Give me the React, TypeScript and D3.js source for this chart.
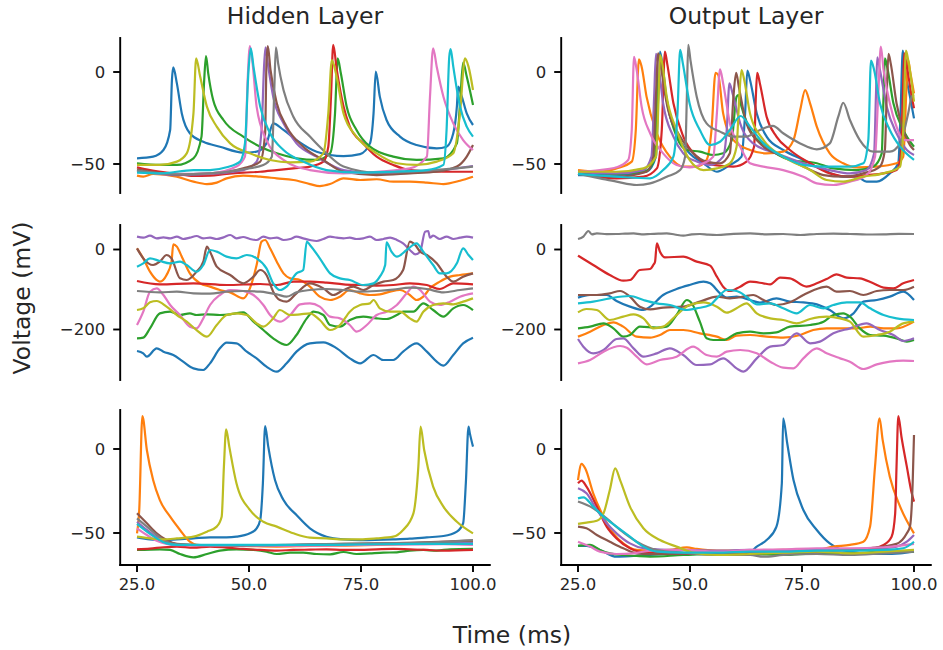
import React from 'react';
import * as d3 from 'd3';

type Pt = [number, number];

// Membrane potential traces (time in ms, voltage in mV), ten neurons per panel,
// listed in colour-cycle order: blue, orange, green, red, purple, brown, pink, gray, olive, cyan.

const hiddenSpiking: Pt[][] = [
  [[25,-46.9],[28.6,-46.0],[30.9,-42.4],[32.4,-31.5],[32.8,-4.3],[33.1,2.5],[33.9,-6.2],[35.0,-22.5],[36.8,-33.3],[39.8,-37.9],[43.5,-40.6],[48.7,-43.8],[51.7,-43.3],[53.9,-38.8],[55.4,-27.9],[57.7,-31.5],[60.6,-37.0],[65.1,-43.3],[71.1,-45.7],[74.8,-44.6],[77.0,-38.8],[77.8,-22.5],[78.3,0.2],[79.2,-13.4],[80.7,-26.1],[83.7,-35.1],[87.4,-39.7],[91.9,-41.5],[94.1,-40.6],[95.6,-33.3],[96.4,-18.8],[96.7,-8.0],[97.5,-13.4],[98.6,-22.5],[100,-28.8]],
  [[25,-56.3],[26.4,-56.9],[28.6,-55.4],[33.9,-56.9],[37.6,-59.6],[40.6,-60.9],[42.8,-60.1],[45.0,-57.8],[48.7,-56.3],[52.5,-56.9],[56.2,-57.8],[59.9,-58.7],[63.6,-60.9],[65.8,-62.0],[68.1,-60.9],[71.1,-57.8],[74.8,-58.7],[78.5,-58.3],[82.2,-59.6],[85.9,-59.6],[89.7,-60.1],[93.4,-60.9],[97.1,-59.1],[100,-56.9]],
  [[25,-49.6],[30.1,-50.5],[33.9,-50.5],[37.6,-46.9],[39.4,-35.1],[40.0,-4.3],[40.4,8.7],[40.9,-0.7],[42.0,-15.2],[44.3,-26.1],[48.7,-35.1],[52.5,-40.6],[56.2,-44.2],[60.6,-46.9],[65.1,-47.8],[68.1,-44.2],[69.2,-22.5],[69.8,7.4],[70.5,-0.7],[71.8,-18.8],[74.0,-31.5],[77.0,-40.6],[82.2,-46.0],[87.4,-47.8],[93.4,-46.9],[96.4,-38.8],[97.2,-13.4],[97.8,5.1],[98.6,-2.5],[100,-17.9]],
  [[25,-51.8],[27.9,-53.3],[33.9,-55.4],[37.6,-56.5],[41.3,-56.3],[45.0,-55.4],[48.7,-54.7],[52.5,-54.2],[56.2,-53.3],[59.9,-52.4],[63.6,-51.4],[66.6,-48.7],[67.7,-40.6],[68.3,-13.4],[68.8,14.7],[69.6,1.1],[71.1,-18.8],[72.5,-29.7],[75.5,-38.8],[78.5,-46.0],[82.2,-50.5],[85.9,-53.3],[93.4,-54.2],[100,-54.2]],
  [[25,-53.3],[33.9,-56.0],[41.3,-55.4],[48.7,-53.3],[51.7,-48.7],[52.8,-31.5],[53.4,4.7],[53.7,13.4],[54.3,2.9],[55.4,-13.4],[57.7,-27.9],[60.6,-38.8],[65.1,-46.0],[71.1,-53.3],[78.5,-55.1],[85.9,-54.7],[93.4,-53.3],[100,-51.1]],
  [[25,-52.9],[33.9,-55.6],[41.3,-55.1],[48.7,-52.4],[52.5,-48.7],[53.6,-33.3],[53.9,4.7],[54.2,14.1],[54.8,1.1],[56.2,-17.0],[58.4,-29.7],[62.1,-40.6],[66.6,-47.8],[71.1,-54.2],[78.5,-56.0],[85.9,-55.1],[91.9,-54.2],[96.4,-51.4],[98.6,-46.0],[100,-39.7]],
  [[25,-54.2],[33.9,-55.4],[41.3,-55.1],[47.2,-51.4],[49.1,-46.0],[49.7,-4.3],[50.2,14.1],[50.8,4.7],[51.7,-18.8],[53.9,-37.0],[57.7,-47.8],[63.6,-53.3],[71.1,-55.1],[78.5,-54.2],[85.9,-52.4],[89.7,-46.0],[90.4,-13.4],[91.1,12.9],[91.9,2.9],[93.4,-13.4],[95.6,-27.9],[97.8,-37.0],[100,-42.4]],
  [[25,-53.6],[33.9,-55.6],[41.3,-55.1],[48.7,-52.9],[53.2,-50.5],[55.1,-46.0],[55.6,-13.4],[56.0,13.4],[56.5,4.7],[57.7,-9.8],[59.9,-24.3],[63.6,-35.1],[67.3,-44.2],[71.1,-51.4],[78.5,-54.7],[85.9,-54.2],[93.4,-52.9],[100,-51.4]],
  [[25,-50.5],[30.1,-50.5],[33.9,-48.7],[36.1,-44.2],[37.6,-22.5],[38.2,7.4],[39.1,-2.5],[40.6,-18.8],[42.8,-29.7],[45.8,-38.8],[50.2,-44.2],[54.7,-47.8],[59.2,-49.1],[63.6,-48.7],[66.6,-44.2],[67.7,-22.5],[68.5,6.5],[69.4,-0.7],[71.1,-22.5],[74.0,-35.1],[78.5,-44.2],[83.0,-49.6],[87.4,-50.5],[91.9,-48.7],[95.6,-44.2],[97.1,-22.5],[98.2,7.4],[99.0,2.9],[100,-9.8]],
  [[25,-54.7],[30.1,-55.1],[37.6,-53.3],[41.3,-53.3],[45.0,-51.8],[48.0,-48.7],[49.1,-38.8],[49.9,1.1],[50.4,12.9],[51.0,2.9],[52.5,-18.8],[54.7,-33.3],[57.7,-42.4],[62.1,-48.7],[67.3,-53.3],[74.8,-54.7],[82.2,-54.2],[89.7,-53.3],[93.4,-50.5],[94.1,-31.5],[94.7,8.3],[95.0,12.5],[95.6,2.9],[97.1,-18.8],[98.6,-29.7],[100,-35.1]],
];

const outputSpiking: Pt[][] = [
  [[25,-56.0],[33.6,-56.0],[40.3,-54.2],[42.4,-46.0],[42.9,-13.4],[43.3,11.1],[43.9,2.9],[44.8,-15.2],[47.0,-33.3],[49.9,-44.2],[53.0,-49.6],[56.0,-54.2],[58.9,-50.5],[61.5,-46.0],[62.3,-22.5],[62.8,0.7],[63.4,-4.3],[64.9,-22.5],[67.1,-35.1],[70.8,-42.4],[75.3,-47.8],[79.8,-53.3],[84.2,-56.9],[87.2,-56.9],[89.4,-59.6],[91.7,-59.6],[94.6,-55.1],[96.5,-49.6],[97.0,-22.5],[97.5,11.6],[98.0,1.1],[99.1,-13.4],[100,-25.2]],
  [[25,-53.3],[29.9,-54.2],[33.6,-52.4],[37.0,-48.7],[37.9,-31.5],[38.6,6.9],[39.2,2.9],[40.3,-13.4],[42.6,-33.3],[45.5,-46.0],[48.5,-51.4],[51.5,-51.4],[53.7,-47.8],[54.8,-31.5],[55.7,-0.4],[56.3,-1.6],[57.4,-22.5],[59.7,-37.0],[63.4,-42.4],[67.1,-44.2],[70.8,-43.3],[73.1,-37.0],[74.6,-20.7],[75.7,-9.8],[76.8,-17.0],[78.3,-29.7],[81.2,-44.2],[84.2,-49.6],[87.2,-51.8],[91.7,-51.4],[96.1,-49.6],[97.6,-46.0],[98.4,-4.3],[98.7,6.5],[99.2,-0.7],[100,-11.6]],
  [[25,-54.2],[33.6,-55.4],[40.3,-53.6],[42.2,-46.0],[42.7,-4.3],[43.0,9.2],[43.6,2.9],[44.8,-15.2],[47.0,-35.1],[49.3,-42.4],[52.2,-43.3],[55.2,-45.1],[57.4,-44.2],[59.3,-37.0],[60.4,-13.4],[60.8,-12.5],[61.5,-18.8],[63.4,-31.5],[67.1,-40.6],[72.3,-47.8],[78.3,-49.6],[82.0,-52.4],[87.2,-53.3],[90.9,-51.4],[92.8,-44.2],[93.2,-13.4],[93.5,7.4],[94.0,2.9],[95.4,-17.0],[97.6,-31.5],[100,-40.6]],
  [[25,-55.1],[33.6,-57.8],[39.6,-56.9],[42.6,-52.4],[43.7,-31.5],[44.4,11.1],[44.9,4.7],[46.3,-17.0],[48.5,-35.1],[51.5,-46.0],[55.2,-50.5],[59.7,-51.4],[62.6,-48.7],[64.3,-40.6],[64.7,-13.4],[65.0,-0.4],[65.6,-6.2],[67.1,-24.3],[69.3,-35.1],[72.3,-42.4],[76.8,-49.6],[81.2,-55.1],[85.7,-56.9],[89.4,-56.0],[93.2,-55.1],[96.1,-53.3],[97.0,-46.0],[97.5,-13.4],[97.8,10.1],[98.4,2.9],[99.5,-13.4],[100,-19.7]],
  [[25,-54.7],[33.6,-55.1],[39.6,-53.3],[41.4,-46.0],[42.0,-13.4],[42.4,9.8],[42.9,4.7],[44.0,-17.0],[46.3,-35.1],[48.5,-44.2],[51.5,-48.7],[54.5,-50.5],[57.4,-46.0],[58.2,-31.5],[58.8,-6.2],[59.5,-11.6],[61.2,-27.9],[64.1,-38.8],[69.3,-44.2],[75.3,-49.6],[81.2,-53.3],[85.7,-55.1],[89.4,-53.3],[91.1,-44.2],[91.5,-13.4],[91.8,8.0],[92.4,1.1],[93.9,-18.8],[96.1,-33.3],[98.4,-42.4],[100,-45.1]],
  [[25,-55.1],[33.6,-56.9],[40.3,-54.2],[41.8,-46.0],[42.4,-13.4],[42.9,10.1],[43.5,2.9],[44.8,-17.0],[47.8,-35.1],[50.7,-44.2],[53.7,-48.7],[56.7,-49.6],[58.9,-44.2],[59.7,-13.4],[60.3,-0.4],[60.9,-8.0],[62.6,-27.9],[65.6,-38.8],[70.8,-46.0],[75.3,-51.4],[79.8,-56.0],[84.2,-56.9],[88.7,-55.1],[92.4,-51.4],[93.5,-42.4],[93.9,-13.4],[94.3,9.8],[94.8,4.7],[96.1,-17.0],[97.6,-31.5],[99.1,-39.7],[100,-42.4]],
  [[25,-54.2],[29.9,-53.3],[33.6,-51.8],[36.2,-47.8],[37.0,-31.5],[37.5,8.3],[38.1,1.1],[39.2,-18.8],[41.1,-33.3],[44.0,-44.2],[47.0,-50.5],[49.9,-51.8],[53.0,-49.6],[55.2,-46.0],[56.0,-22.5],[56.7,1.4],[57.4,-6.2],[58.9,-27.9],[61.2,-40.6],[63.4,-49.6],[66.4,-51.4],[70.8,-53.3],[75.3,-56.9],[78.3,-60.5],[82.0,-61.4],[85.7,-59.6],[89.4,-56.0],[91.3,-46.0],[92.0,-13.4],[92.6,13.8],[93.2,1.1],[94.6,-17.0],[96.1,-29.7],[97.6,-37.0],[100,-37.0]],
  [[25,-55.4],[29.9,-57.8],[33.6,-59.6],[38.1,-61.4],[41.1,-60.5],[44.8,-56.9],[47.8,-53.3],[48.9,-46.0],[49.3,-13.4],[49.6,14.7],[50.1,6.5],[51.5,-13.4],[53.7,-27.9],[56.7,-32.4],[59.7,-35.1],[62.6,-35.1],[65.6,-31.5],[68.5,-29.3],[70.8,-33.3],[74.6,-38.8],[78.3,-42.0],[81.2,-38.8],[83.1,-24.3],[84.2,-16.7],[85.7,-26.1],[87.9,-37.0],[90.9,-43.3],[94.6,-43.3],[96.9,-38.8],[98.7,-22.5],[99.5,-13.4],[100,-12.5]],
  [[25,-54.2],[33.6,-54.2],[39.6,-52.4],[42.4,-46.0],[43.0,-13.4],[43.3,9.2],[43.8,4.7],[44.8,-13.4],[47.0,-31.5],[49.9,-47.8],[53.0,-53.3],[56.0,-52.4],[58.9,-49.6],[60.4,-40.6],[61.0,-13.4],[61.5,1.1],[62.1,-4.3],[63.4,-22.5],[66.4,-37.0],[70.8,-46.0],[76.8,-53.3],[80.5,-58.7],[84.2,-59.6],[88.7,-56.9],[93.2,-55.1],[96.9,-51.4],[97.6,-31.5],[98.2,11.6],[98.7,6.5],[99.5,-6.2],[100,-16.1]],
  [[25,-55.4],[33.6,-56.9],[41.1,-57.8],[44.0,-53.3],[46.3,-46.0],[47.2,-22.5],[47.8,12.0],[48.4,4.7],[49.9,-17.0],[52.2,-31.5],[54.5,-39.7],[56.7,-37.9],[58.9,-31.5],[61.3,-23.9],[63.4,-29.7],[66.4,-38.8],[70.8,-46.0],[75.3,-50.5],[79.8,-51.4],[85.7,-51.4],[88.7,-49.6],[89.8,-37.0],[90.4,6.2],[91.1,1.1],[92.4,-17.0],[94.6,-31.5],[96.9,-40.6],[100,-47.8]],
];

const hiddenDriven: Pt[][] = [
  [[25,-253.8],[26.4,-259.6],[27.2,-267.9],[29.4,-247.1],[30.9,-255.4],[33.1,-263.8],[35.3,-280.4],[37.6,-297.1],[39.8,-301.3],[41.3,-284.6],[43.5,-247.1],[45.0,-232.9],[47.2,-234.6],[49.5,-255.4],[51.7,-272.1],[53.9,-292.9],[56.2,-305.4],[58.4,-284.6],[60.6,-255.4],[63.6,-234.6],[66.6,-232.1],[69.6,-247.1],[72.5,-272.1],[74.8,-284.6],[77.8,-263.8],[80.0,-276.3],[82.2,-276.3],[84.4,-255.4],[87.4,-234.6],[89.7,-255.4],[91.9,-280.4],[93.4,-290.4],[95.6,-263.8],[97.8,-234.6],[100,-220.4]],
  [[25,2.9],[26.4,-22.1],[27.9,-55.4],[29.4,-76.3],[30.1,-80.4],[31.6,-63.8],[32.7,-30.4],[33.1,12.9],[33.9,7.1],[35.0,-17.9],[36.8,-59.6],[39.1,-84.6],[41.3,-92.9],[43.5,-101.3],[45.8,-107.1],[48.7,-122.1],[50.2,-97.1],[51.7,-38.8],[52.8,19.6],[53.6,23.8],[54.7,2.9],[56.2,-30.4],[57.7,-59.6],[59.2,-72.1],[61.4,-76.3],[63.6,-92.9],[65.8,-117.9],[68.1,-126.3],[70.3,-117.9],[72.5,-101.3],[74.8,-109.6],[77.0,-113.8],[79.2,-112.1],[81.5,-105.4],[83.7,-101.3],[85.9,-113.8],[87.4,-126.3],[88.9,-117.9],[90.4,-97.1],[92.6,-80.4],[94.9,-67.9],[97.1,-63.8],[100,-59.6]],
  [[25,-222.1],[26.4,-220.4],[27.9,-197.1],[30.1,-159.6],[32.4,-155.4],[34.6,-163.8],[36.8,-159.6],[38.3,-163.8],[40.6,-162.1],[43.5,-163.8],[45.8,-162.1],[48.7,-157.1],[51.0,-180.4],[53.2,-201.3],[55.4,-222.1],[58.4,-238.8],[60.6,-213.8],[62.9,-172.1],[64.4,-155.4],[66.6,-163.8],[68.1,-188.8],[70.3,-192.9],[72.5,-176.3],[75.5,-167.9],[78.5,-172.1],[80.7,-173.8],[83.0,-163.8],[84.4,-155.4],[86.7,-155.4],[88.9,-134.6],[91.1,-151.3],[93.4,-167.9],[95.6,-147.1],[97.8,-138.8],[100,-151.3]],
  [[25,-78.8],[30.1,-87.1],[37.6,-84.6],[45.0,-88.8],[52.5,-86.3],[56.2,-88.8],[59.9,-80.4],[63.6,-80.4],[67.3,-82.9],[71.1,-87.1],[74.8,-88.8],[78.5,-90.4],[82.2,-88.8],[85.9,-84.6],[89.7,-88.8],[92.6,-98.8],[95.6,-84.6],[100,-87.1]],
  [[25,32.1],[26.4,29.6],[27.9,34.6],[29.4,27.9],[30.9,30.4],[32.4,27.9],[33.9,32.1],[35.3,26.3],[36.8,29.6],[38.3,33.8],[39.8,27.9],[41.3,29.6],[42.8,26.3],[44.3,30.4],[45.8,36.3],[47.2,27.9],[48.7,31.3],[50.2,26.3],[51.7,23.8],[53.2,32.1],[54.7,27.9],[56.2,29.6],[57.7,23.8],[59.2,26.3],[60.6,32.1],[62.1,27.9],[63.6,23.8],[65.1,21.3],[66.6,26.3],[68.1,32.1],[69.6,29.6],[71.1,27.9],[72.5,29.6],[74.0,26.3],[75.5,27.9],[77.0,32.1],[78.5,23.8],[80.0,26.3],[81.5,29.6],[83.0,23.8],[84.4,15.4],[85.9,-1.3],[87.1,-12.1],[88.2,-5.4],[89.3,44.6],[90.0,46.3],[90.4,29.6],[91.1,34.6],[92.6,26.3],[94.1,32.1],[95.6,26.3],[97.1,29.6],[98.6,32.1],[100,29.6]],
  [[25,2.9],[26.4,-22.1],[28.6,-38.8],[30.1,-30.4],[31.6,-13.8],[32.7,-22.1],[34.6,-72.1],[36.1,-76.3],[38.3,-55.4],[39.8,-30.4],[40.6,7.1],[41.3,-5.4],[42.8,-42.9],[45.8,-63.8],[48.7,-84.6],[51.0,-67.9],[52.5,-51.3],[53.9,-63.8],[55.4,-105.4],[56.9,-126.3],[58.4,-130.4],[60.6,-109.6],[63.6,-84.6],[66.6,-97.1],[68.8,-113.8],[71.1,-101.3],[73.3,-92.9],[75.5,-101.3],[77.8,-88.8],[80.0,-80.4],[82.2,-76.3],[84.4,-51.3],[85.9,19.6],[87.1,11.3],[88.2,-5.4],[89.7,-13.8],[91.9,-34.6],[94.1,-67.9],[95.6,-80.4],[97.8,-67.9],[100,-59.6]],
  [[25,-188.8],[26.4,-155.4],[27.9,-105.4],[29.4,-97.1],[30.9,-113.8],[32.4,-138.8],[34.6,-163.8],[36.8,-192.9],[38.3,-197.1],[39.8,-172.1],[41.3,-138.8],[43.5,-113.8],[45.8,-101.3],[48.7,-103.8],[51.0,-113.8],[53.2,-138.8],[54.7,-163.8],[56.9,-180.4],[59.2,-163.8],[61.4,-137.1],[63.6,-134.6],[65.8,-142.9],[68.1,-167.9],[70.3,-172.1],[72.5,-188.8],[74.0,-205.4],[76.3,-188.8],[78.5,-163.8],[80.7,-155.4],[83.0,-138.8],[85.2,-109.6],[86.7,-92.9],[88.2,-101.3],[90.4,-130.4],[92.6,-138.8],[94.9,-130.4],[97.1,-117.9],[100,-109.6]],
  [[25,-103.8],[30.1,-107.1],[33.9,-105.4],[37.6,-109.6],[41.3,-110.4],[45.0,-105.4],[48.7,-103.8],[52.5,-105.4],[56.2,-112.1],[58.4,-117.9],[60.6,-107.1],[63.6,-101.3],[67.3,-98.8],[71.1,-101.3],[74.8,-105.4],[78.5,-103.8],[82.2,-100.4],[85.9,-95.4],[89.7,-98.8],[93.4,-107.1],[97.1,-101.3],[100,-97.1]],
  [[25,-151.3],[26.4,-147.1],[27.9,-132.1],[29.4,-128.8],[31.6,-142.9],[33.9,-163.8],[36.1,-180.4],[38.3,-201.3],[40.6,-217.9],[42.8,-188.8],[45.0,-163.8],[47.2,-159.6],[49.5,-163.8],[51.7,-184.6],[53.2,-192.9],[55.4,-172.1],[56.9,-151.3],[59.2,-163.8],[61.4,-162.1],[63.6,-159.6],[65.8,-176.3],[68.1,-201.3],[70.3,-188.8],[72.5,-155.4],[74.8,-138.8],[77.0,-134.6],[77.8,-126.3],[79.2,-147.1],[81.5,-155.4],[83.7,-155.4],[85.9,-172.1],[87.4,-180.4],[88.9,-155.4],[91.1,-138.8],[93.4,-134.6],[95.6,-137.1],[97.8,-130.4],[100,-122.1]],
  [[25,-42.9],[26.4,-34.6],[27.9,-22.1],[30.1,-28.8],[32.4,-34.6],[34.6,-30.4],[36.1,-38.8],[38.3,-55.4],[39.8,-38.8],[41.3,-1.3],[42.8,-5.4],[45.0,-17.9],[47.2,-22.1],[49.5,-13.8],[51.7,-22.1],[53.9,-47.1],[55.4,-84.6],[56.9,-101.3],[58.4,-92.9],[60.6,-59.6],[62.1,-51.3],[62.9,19.6],[63.6,11.3],[65.8,-22.1],[68.1,-59.6],[70.3,-72.1],[72.5,-76.3],[75.5,-88.8],[77.8,-84.6],[79.2,-67.9],[80.4,-38.8],[80.7,17.9],[81.8,-5.4],[83.0,-17.9],[85.2,-1.3],[87.4,15.4],[88.9,-5.4],[91.1,-38.8],[92.6,-59.6],[94.1,-59.6],[96.4,-34.6],[97.8,2.9],[99.0,-13.8],[100,-26.3]],
];

const outputDriven: Pt[][] = [
  [[25,-120.4],[27.7,-113.8],[31.4,-113.8],[33.6,-128.8],[36.6,-142.9],[39.6,-151.3],[41.1,-142.9],[44.0,-113.8],[47.0,-98.8],[49.9,-88.8],[53.0,-80.4],[54.5,-84.6],[56.7,-109.6],[58.2,-120.4],[60.4,-117.9],[63.4,-126.3],[65.6,-132.9],[69.3,-122.1],[72.3,-130.4],[75.3,-132.1],[78.3,-137.1],[81.2,-151.3],[84.2,-172.1],[86.5,-159.6],[88.7,-130.4],[91.7,-126.3],[94.6,-117.9],[97.6,-105.4],[100,-126.3]],
  [[25,-217.9],[27.7,-205.4],[30.7,-188.8],[32.9,-182.1],[35.1,-192.9],[38.1,-217.9],[41.1,-220.4],[43.3,-213.8],[45.5,-201.3],[48.5,-201.3],[52.2,-209.6],[56.0,-217.9],[58.2,-226.3],[60.4,-215.4],[63.4,-213.8],[67.1,-217.9],[70.8,-220.4],[74.6,-213.8],[77.5,-201.3],[80.5,-197.1],[83.5,-197.1],[87.2,-197.1],[90.2,-192.9],[93.2,-197.1],[96.1,-197.1],[100,-180.4]],
  [[25,-197.1],[27.7,-192.9],[30.7,-184.6],[32.9,-197.1],[35.1,-217.9],[36.6,-213.8],[38.8,-192.9],[42.6,-195.4],[44.8,-192.9],[47.0,-163.8],[49.3,-126.3],[50.4,-134.6],[52.2,-180.4],[53.7,-222.1],[55.2,-226.3],[57.4,-226.3],[60.4,-209.6],[63.4,-205.4],[66.4,-209.6],[69.3,-207.1],[72.3,-192.9],[76.8,-188.8],[79.8,-180.4],[82.0,-163.8],[84.2,-159.6],[85.7,-167.9],[87.9,-197.1],[90.2,-213.8],[93.2,-215.4],[96.1,-222.1],[98.4,-230.4],[100,-226.3]],
  [[25,-15.4],[28.4,-38.8],[32.1,-63.8],[35.1,-77.9],[36.6,-76.3],[38.8,-51.3],[41.1,-48.8],[41.8,-38.8],[42.2,-30.4],[42.6,15.4],[43.3,-5.4],[44.4,-19.6],[48.5,-17.9],[51.5,-30.4],[54.5,-40.4],[56.0,-67.9],[57.4,-92.9],[58.9,-103.8],[61.2,-92.9],[63.4,-80.4],[66.4,-84.6],[67.9,-87.1],[70.1,-70.4],[72.3,-72.1],[76.0,-92.9],[78.3,-84.6],[80.5,-73.8],[82.7,-62.1],[85.0,-70.4],[87.9,-72.1],[90.9,-84.6],[93.2,-95.4],[95.4,-97.1],[97.6,-84.6],[100,-76.3]],
  [[25,-223.8],[26.2,-242.9],[28.4,-259.6],[30.7,-251.3],[33.6,-223.8],[35.1,-222.1],[37.4,-247.1],[39.6,-267.9],[42.6,-259.6],[45.5,-247.1],[48.5,-263.8],[51.5,-288.8],[54.5,-287.1],[57.4,-272.1],[60.4,-297.1],[61.9,-305.4],[64.9,-272.1],[67.9,-242.9],[70.8,-238.8],[73.8,-209.6],[76.8,-234.6],[79.0,-230.4],[82.0,-209.6],[85.7,-197.1],[89.4,-184.6],[92.4,-201.3],[95.4,-213.8],[97.6,-228.8],[100,-222.1]],
  [[25,-113.8],[29.2,-113.8],[32.1,-109.6],[34.4,-103.8],[36.6,-117.9],[38.8,-142.9],[41.1,-149.6],[44.0,-145.4],[48.5,-142.9],[52.2,-130.4],[56.0,-117.9],[58.9,-122.1],[61.9,-117.9],[64.1,-113.8],[66.4,-126.3],[69.3,-138.8],[72.3,-132.1],[75.3,-113.8],[78.3,-98.8],[80.5,-92.9],[82.7,-105.4],[85.7,-103.8],[88.7,-113.8],[91.7,-103.8],[94.6,-101.3],[97.6,-101.3],[100,-92.9]],
  [[25,-284.6],[27.7,-276.3],[30.7,-255.4],[34.4,-241.3],[35.9,-245.4],[38.1,-267.9],[40.3,-287.1],[43.3,-276.3],[47.0,-267.9],[50.7,-242.9],[53.7,-263.8],[56.0,-267.9],[58.2,-255.4],[61.2,-251.3],[64.9,-259.6],[67.9,-280.4],[70.8,-295.4],[73.1,-297.1],[75.3,-272.1],[78.3,-247.1],[80.5,-259.6],[83.5,-272.1],[85.7,-280.4],[88.7,-298.8],[91.7,-287.1],[94.6,-280.4],[97.6,-277.9],[100,-278.8]],
  [[25,26.3],[26.2,32.1],[27.3,46.3],[28.1,37.9],[29.2,40.4],[31.4,38.4],[33.6,38.8],[35.5,39.6],[37.4,40.4],[39.2,38.0],[41.1,38.8],[42.9,39.6],[44.8,40.4],[46.6,37.5],[48.5,34.6],[50.4,37.9],[52.2,38.8],[54.1,37.1],[56.0,36.3],[59.7,39.2],[63.4,40.4],[67.1,38.0],[70.8,38.8],[74.6,36.3],[78.3,38.8],[82.0,39.6],[85.7,38.8],[89.4,37.5],[93.2,37.9],[96.6,39.2],[100,38.8]],
  [[25,-157.1],[26.9,-148.8],[29.2,-151.3],[32.1,-176.3],[35.1,-167.9],[37.4,-162.1],[39.6,-172.1],[41.8,-197.1],[44.0,-192.9],[47.0,-163.8],[49.9,-138.8],[53.0,-132.1],[56.0,-142.9],[58.2,-157.9],[60.4,-147.1],[62.6,-134.6],[64.9,-159.6],[67.9,-172.1],[70.8,-176.3],[73.8,-184.6],[76.8,-173.8],[80.5,-167.9],[83.5,-172.1],[85.7,-180.4],[88.7,-217.9],[91.7,-213.8],[94.6,-205.4],[97.6,-184.6],[100,-180.4]],
  [[25,-134.6],[28.4,-130.4],[32.1,-122.1],[36.6,-116.3],[39.6,-126.3],[42.6,-134.6],[45.5,-138.8],[49.3,-151.3],[51.5,-147.1],[54.5,-138.8],[56.0,-122.1],[58.2,-101.3],[60.4,-103.8],[62.6,-117.9],[64.9,-137.1],[67.9,-134.6],[70.8,-147.1],[73.8,-159.6],[76.8,-138.8],[79.8,-147.1],[82.0,-138.8],[85.0,-132.1],[87.9,-132.1],[90.2,-147.1],[93.2,-163.8],[96.1,-172.1],[100,-176.3]],
];

const hiddenSparse: Pt[][] = [
  [[25,-52.6],[27.9,-53.8],[30.1,-54.2],[33.9,-53.8],[37.6,-53.2],[41.3,-52.6],[45.0,-52.6],[47.2,-52.2],[50.2,-50.2],[51.7,-47.2],[52.5,-42.3],[53.1,-20.4],[53.6,13.7],[54.3,1.4],[55.8,-18.5],[57.7,-30.4],[60.6,-39.3],[63.6,-47.2],[67.3,-52.2],[71.1,-53.8],[74.8,-54.2],[82.2,-53.8],[85.9,-53.4],[89.7,-52.6],[93.4,-51.8],[96.4,-49.2],[97.8,-44.2],[98.4,-20.4],[99.0,13.3],[99.3,9.3],[100,1.4]],
  [[25,-50.2],[25.5,-36.3],[26.2,19.6],[27.2,-0.6],[28.6,-18.5],[30.1,-30.4],[32.4,-40.3],[34.6,-48.2],[36.8,-55.2],[38.3,-57.1],[41.3,-57.5],[48.7,-57.7],[56.2,-58.1],[63.6,-57.7],[71.1,-57.5],[78.5,-57.1],[85.9,-56.5],[93.4,-55.8],[100,-55.2]],
  [[25,-60.1],[30.1,-59.7],[32.4,-60.1],[34.6,-62.5],[37.6,-64.5],[40.6,-62.5],[43.5,-60.5],[47.2,-59.7],[51.0,-60.1],[53.9,-61.1],[56.2,-62.5],[59.2,-61.7],[62.1,-61.7],[65.1,-62.5],[68.1,-62.7],[71.1,-61.3],[74.0,-62.5],[77.0,-62.1],[80.0,-61.7],[83.0,-61.5],[85.9,-60.5],[88.9,-60.1],[91.9,-60.5],[94.9,-59.7],[100,-59.5]],
  [[25,-59.7],[27.9,-59.3],[30.9,-58.5],[33.9,-58.1],[37.6,-58.7],[41.3,-58.1],[45.0,-58.7],[48.7,-59.5],[52.5,-60.1],[56.2,-60.5],[59.9,-60.1],[63.6,-59.9],[67.3,-59.7],[71.1,-60.1],[74.8,-60.1],[78.5,-59.7],[82.2,-59.5],[85.9,-59.7],[89.7,-60.1],[93.4,-60.5],[100,-60.1]],
  [[25,-43.3],[27.2,-48.2],[29.4,-52.6],[31.6,-55.8],[33.9,-57.1],[48.7,-57.5],[63.6,-57.1],[78.5,-56.5],[93.4,-56.2],[100,-55.8]],
  [[25,-38.3],[27.2,-44.2],[29.4,-50.2],[31.6,-54.2],[33.9,-56.5],[41.3,-57.5],[56.2,-57.3],[71.1,-56.5],[85.9,-55.8],[100,-54.6]],
  [[25,-47.2],[27.2,-51.2],[29.4,-54.6],[31.6,-56.5],[33.9,-57.3],[48.7,-57.5],[63.6,-57.5],[78.5,-56.9],[93.4,-56.7],[100,-57.1]],
  [[25,-41.3],[27.2,-46.2],[29.4,-51.2],[31.6,-55.2],[33.9,-56.7],[48.7,-57.5],[63.6,-56.7],[78.5,-56.2],[93.4,-55.2],[100,-54.2]],
  [[25,-52.2],[27.9,-53.2],[30.9,-53.8],[33.9,-53.2],[37.6,-52.2],[40.6,-49.2],[42.8,-46.2],[43.9,-40.3],[44.4,-10.5],[44.9,11.7],[45.6,1.4],[47.2,-20.4],[50.2,-36.3],[53.2,-43.3],[56.2,-46.2],[59.9,-50.2],[63.6,-52.8],[67.3,-53.2],[71.1,-53.8],[74.8,-53.8],[78.5,-53.2],[82.2,-52.2],[84.4,-48.2],[86.7,-38.3],[87.8,-10.5],[88.3,13.3],[89.1,-0.6],[91.1,-22.4],[93.4,-34.3],[96.4,-43.3],[100,-50.2]],
  [[25,-44.6],[27.2,-49.2],[29.4,-53.2],[31.6,-56.2],[33.9,-57.1],[48.7,-57.1],[63.6,-57.1],[78.5,-56.7],[93.4,-56.5],[100,-56.5]],
];

const outputSparse: Pt[][] = [
  [[25,-57.7],[26.9,-57.7],[29.9,-60.1],[33.6,-64.1],[37.4,-63.7],[41.1,-63.1],[48.5,-62.1],[56.0,-62.1],[63.4,-61.1],[64.9,-58.1],[67.1,-54.2],[69.3,-46.2],[70.5,-20.4],[70.8,18.3],[71.7,3.4],[73.1,-18.5],[75.3,-36.3],[78.3,-48.2],[81.2,-56.2],[83.5,-59.7],[85.7,-61.1],[89.4,-62.1],[93.2,-62.5],[96.9,-62.1],[100,-61.1]],
  [[25,-18.5],[25.8,-8.9],[26.6,-11.5],[28.4,-26.4],[30.7,-40.3],[32.9,-50.2],[35.1,-56.2],[38.1,-60.1],[41.1,-60.5],[45.5,-60.1],[49.3,-58.5],[51.5,-59.5],[56.0,-60.5],[63.4,-60.5],[70.8,-60.1],[78.3,-60.1],[82.0,-58.1],[85.7,-57.1],[88.7,-55.2],[90.2,-46.2],[91.3,-10.5],[92.3,18.3],[93.0,5.4],[94.6,-16.5],[96.9,-34.3],[100,-50.2]],
  [[25,-57.7],[27.7,-57.1],[29.9,-60.1],[32.1,-62.1],[35.1,-63.1],[38.1,-63.7],[41.1,-64.1],[48.5,-63.1],[56.0,-62.5],[63.4,-62.5],[70.8,-63.1],[78.3,-62.1],[85.7,-62.1],[93.2,-61.1],[100,-61.1]],
  [[25,-20.4],[25.8,-18.8],[26.9,-22.4],[29.2,-34.3],[31.4,-46.2],[33.6,-53.2],[36.6,-59.1],[40.3,-61.7],[44.8,-62.1],[52.2,-61.7],[59.7,-61.1],[67.1,-61.1],[74.6,-60.5],[82.0,-60.1],[89.4,-59.7],[93.2,-57.1],[95.0,-52.2],[95.8,-38.3],[96.1,-10.5],[96.5,19.6],[97.2,7.3],[98.4,-10.5],[99.5,-26.4],[100,-31.3]],
  [[25,-23.4],[26.9,-26.4],[29.2,-36.3],[31.4,-44.2],[33.6,-50.2],[36.6,-56.2],[39.6,-59.1],[42.6,-59.7],[48.5,-60.1],[56.0,-60.5],[63.4,-60.1],[70.8,-60.5],[78.3,-60.1],[85.7,-60.1],[90.2,-59.7],[93.2,-59.1],[96.1,-58.1],[98.4,-55.2],[100,-51.2]],
  [[25,-46.2],[26.9,-47.2],[29.2,-51.2],[32.1,-55.2],[35.1,-59.1],[38.1,-62.1],[41.1,-62.5],[48.5,-62.5],[56.0,-62.1],[63.4,-61.7],[70.8,-61.7],[78.3,-61.1],[85.7,-60.1],[90.2,-59.1],[96.1,-56.5],[98.4,-50.2],[99.1,-46.2],[99.7,-20.4],[100,8.3]],
  [[25,-55.2],[27.7,-58.1],[29.9,-61.1],[33.6,-62.5],[37.4,-62.1],[41.1,-60.5],[48.5,-60.1],[56.0,-61.1],[63.4,-60.1],[70.8,-59.7],[78.3,-59.1],[85.7,-59.1],[93.2,-58.5],[100,-56.5]],
  [[25,-31.3],[28.4,-35.3],[31.4,-41.3],[34.4,-48.2],[38.1,-55.2],[42.6,-60.1],[48.5,-61.7],[56.0,-63.1],[63.4,-63.1],[66.4,-64.1],[70.8,-63.1],[78.3,-62.5],[85.7,-63.1],[93.2,-62.1],[100,-61.1]],
  [[25,-44.6],[26.9,-43.8],[29.2,-42.7],[30.7,-38.3],[32.1,-24.4],[33.3,-11.5],[34.4,-18.5],[36.6,-34.3],[39.6,-47.2],[43.3,-54.2],[47.0,-58.1],[50.7,-61.7],[56.0,-63.1],[63.4,-62.5],[70.8,-61.7],[78.3,-61.1],[85.7,-62.1],[93.2,-61.1],[100,-60.1]],
  [[25,-29.4],[26.2,-28.8],[28.4,-34.3],[30.7,-40.3],[33.6,-46.2],[36.6,-52.2],[39.6,-58.1],[42.6,-61.1],[48.5,-61.7],[56.0,-61.7],[63.4,-61.1],[70.8,-61.1],[78.3,-60.5],[85.7,-60.5],[93.2,-60.1],[97.6,-59.1],[100,-55.2]],
];

const columnTitles = ['Hidden Layer', 'Output Layer'];
const timeTicks = [25, 50, 75, 100];
const voltTicks = [[0, -50], [0, -200], [0, -50]];
const panelRows = [
  [hiddenSpiking, outputSpiking],
  [hiddenDriven, outputDriven],
  [hiddenSparse, outputSparse],
];

const W = 943;
const H = 650;
const FONT = '"DejaVu Sans", Verdana, sans-serif';
const colors = d3.schemeCategory10;

// panel geometry (pixels)
const colX = [[120.2, 489.8], [561.2, 930.8]];
const rowY = [[38, 193], [225, 380], [410, 565]];
const rowDomain: [number, number][] = [[-65.76, 18.48], [-326.25, 61.25], [-69.05, 23.21]];
const tDomain: [number, number] = [21.25, 103.75];

const minus = (v: number) => (v < 0 ? '\u2212' + Math.abs(v) : String(v));

function Panel({ traces, row, col }: { traces: Pt[][]; row: number; col: number }) {
  const [x0, x1] = colX[col];
  const [y0, y1] = rowY[row];
  const x = d3.scaleLinear().domain(tDomain).range([x0, x1]);
  const y = d3.scaleLinear().domain(rowDomain[row]).range([y1, y0]);
  const line = d3
    .line<Pt>()
    .x((d) => x(d[0]))
    .y((d) => y(d[1]))
    .curve(d3.curveMonotoneX);
  const showX = row === 2;
  return (
    <g>
      {traces.map((tr, i) => (
        <path key={i} d={line(tr) || ''} fill="none" stroke={colors[i % 10]} strokeWidth={2.2} strokeLinejoin="round" />
      ))}
      <line x1={x0} x2={x0} y1={y0} y2={y1} stroke="#000" strokeWidth={1.9} strokeLinecap="square" />
      {voltTicks[row].map((v) => (
        <g key={v}>
          <line x1={x0 - 7} x2={x0} y1={y(v)} y2={y(v)} stroke="#000" strokeWidth={1.9} />
          <text x={x0 - 15} y={y(v)} dy="0.36em" textAnchor="end" fontSize={16.5} fontFamily={FONT} fill="#262626">
            {minus(v)}
          </text>
        </g>
      ))}
      {showX && (
        <g>
          <line x1={x0} x2={x1} y1={y1} y2={y1} stroke="#000" strokeWidth={1.9} strokeLinecap="square" />
          {timeTicks.map((t) => (
            <g key={t}>
              <line x1={x(t)} x2={x(t)} y1={y1} y2={y1 + 7} stroke="#000" strokeWidth={1.9} />
              <text x={x(t)} y={y1 + 25} textAnchor="middle" fontSize={16.5} fontFamily={FONT} fill="#262626">
                {d3.format('.1f')(t)}
              </text>
            </g>
          ))}
        </g>
      )}
    </g>
  );
}

export default function App() {
  return (
    <svg width={W} height={H} style={{ position: 'absolute', left: 0, top: 0, background: '#fff' }}>
      <rect width={W} height={H} fill="#fff" />
      {columnTitles.map((t, c) => (
        <text key={t} x={(colX[c][0] + colX[c][1]) / 2} y={24} textAnchor="middle" fontSize={23.5} fontFamily={FONT} fill="#262626">
          {t}
        </text>
      ))}
      {panelRows.map((pair, r) => pair.map((traces, c) => <Panel key={`${r}-${c}`} traces={traces} row={r} col={c} />))}
      <text x={512} y={643} textAnchor="middle" fontSize={23.5} fontFamily={FONT} fill="#262626">
        Time (ms)
      </text>
      <text transform="translate(30,298) rotate(-90)" textAnchor="middle" fontSize={23.5} fontFamily={FONT} fill="#262626">
        Voltage (mV)
      </text>
    </svg>
  );
}
